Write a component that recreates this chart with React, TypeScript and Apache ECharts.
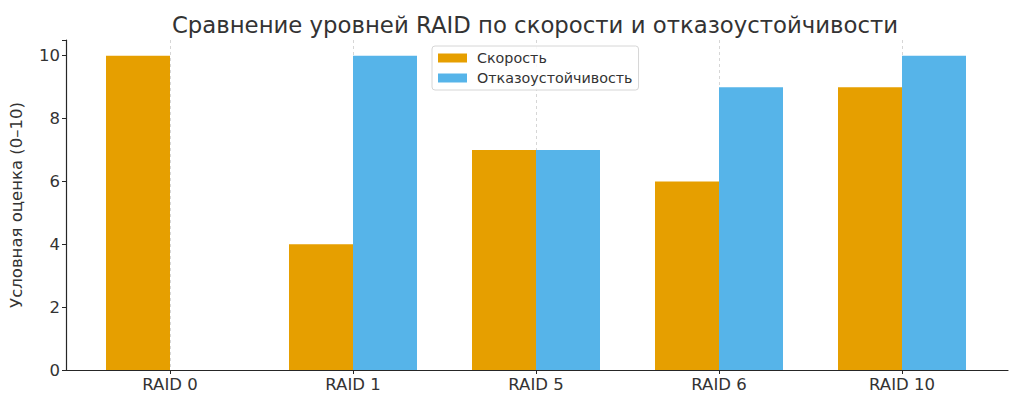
import React, { useEffect, useRef } from "react";
import * as echarts from "echarts";

const categories = ["RAID 0", "RAID 1", "RAID 5", "RAID 6", "RAID 10"];
const speed = [10, 4, 7, 6, 9];
const faultTolerance = [0, 10, 7, 9, 10];
const yTicks = [0, 2, 4, 6, 8, 10];

const FONT = "DejaVu Sans";
const TXT = "#333333";

export default function App() {
  const ref = useRef<HTMLDivElement>(null);
  useEffect(() => {
    if (!ref.current) return;
    const chart = echarts.init(ref.current, undefined, { renderer: "svg" });
    chart.setOption({
      animation: false,
      backgroundColor: "#ffffff",
      textStyle: { fontFamily: FONT },
      title: {
        text: "Сравнение уровней RAID по скорости и отказоустойчивости",
        left: 530,
        textAlign: "center",
        top: 8,
        textStyle: { fontFamily: FONT, fontSize: 22.8, fontWeight: "normal", color: TXT },
      },
      legend: {
        orient: "vertical",
        left: 432,
        top: 46,
        padding: [5, 6, 5, 6],
        itemGap: 6,
        itemWidth: 29,
        itemHeight: 9,
        icon: "rect",
        borderColor: "#d6d6d6",
        borderWidth: 1,
        borderRadius: 3,
        backgroundColor: "rgba(255,255,255,0.85)",
        textStyle: { fontFamily: FONT, fontSize: 14.3, color: TXT, padding: [0, 0, 0, 5] },
        data: ["Скорость", "Отказоустойчивость"],
      },
      grid: [
        { left: 63, right: 16, top: 40, bottom: 38 },
        { left: 170, right: 122, top: 40, bottom: 38 },
      ],
      xAxis: [
        {
          gridIndex: 0,
          type: "value",
          min: 0,
          max: 1,
          axisLine: { show: true, lineStyle: { color: "#262626", width: 1.2 } },
          axisTick: { show: false },
          axisLabel: { show: false },
          splitLine: { show: false },
        },
        {
          gridIndex: 1,
          type: "category",
          data: categories,
          boundaryGap: false,
          axisLine: { show: false },
          axisTick: { show: true, length: 4, lineStyle: { color: "#262626" } },
          axisLabel: { fontFamily: FONT, fontSize: 16.5, color: TXT, margin: 6 },
          splitLine: { show: true, lineStyle: { type: [3, 3], color: "#cccccc", width: 0.8 } },
        },
      ],
      yAxis: [
        {
          gridIndex: 0,
          type: "value",
          min: 0,
          max: 10.5,
          interval: 2,
          name: "Условная оценка (0–10)",
          nameLocation: "middle",
          nameGap: 41,
          nameTextStyle: { fontFamily: FONT, fontSize: 16.5, color: TXT },
          axisLine: { show: true, lineStyle: { color: "#262626", width: 1.2 } },
          axisTick: { show: true, length: 4, lineStyle: { color: "#262626" } },
          axisLabel: {
            fontFamily: FONT,
            fontSize: 16.5,
            color: TXT,
            margin: 6,
            formatter: (v: number) => (yTicks.includes(v) ? String(v) : ""),
          },
          splitLine: { show: false },
        },
        {
          gridIndex: 1,
          type: "value",
          min: 0,
          max: 10.5,
          interval: 2,
          axisLine: { show: false },
          axisTick: { show: false },
          axisLabel: { show: false },
          splitLine: { show: false },
        },
      ],
      series: [
        {
          name: "Скорость",
          type: "bar",
          xAxisIndex: 1,
          yAxisIndex: 1,
          data: speed,
          barWidth: 64,
          barGap: "0%",
          clip: false,
          itemStyle: { color: "#E69F00" },
          z: 3,
        },
        {
          name: "Отказоустойчивость",
          type: "bar",
          xAxisIndex: 1,
          yAxisIndex: 1,
          data: faultTolerance,
          barWidth: 64,
          barGap: "0%",
          clip: false,
          itemStyle: { color: "#56B4E9" },
          z: 3,
        },
      ],
    });
    return () => chart.dispose();
  }, []);
  return (
    <div
      ref={ref}
      style={{ position: "fixed", left: 0, top: 0, width: 1024, height: 408 }}
    />
  );
}
